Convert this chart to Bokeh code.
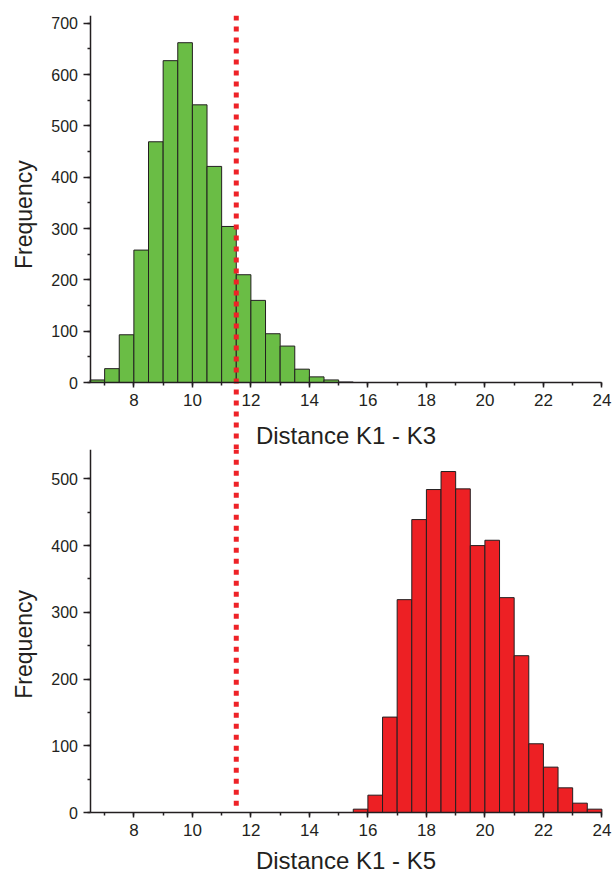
from bokeh.plotting import figure
from bokeh.layouts import column
from bokeh.models import SingleIntervalTicker, Range1d, Label
from bokeh.embed import file_html
from bokeh.resources import INLINE

# ---------------- data ----------------
bin_width = 0.5
k3_bin_left = [6.5, 7.0, 7.5, 8.0, 8.5, 9.0, 9.5, 10.0, 10.5, 11.0, 11.5,
               12.0, 12.5, 13.0, 13.5, 14.0, 14.5, 15.0]
k3_counts = [5, 27, 93, 258, 469, 627, 662, 541, 421, 304, 210,
             160, 95, 71, 26, 11, 5, 1]

k5_bin_left = [15.5, 16.0, 16.5, 17.0, 17.5, 18.0, 18.5, 19.0, 19.5, 20.0,
               20.5, 21.0, 21.5, 22.0, 22.5, 23.0, 23.5]
k5_counts = [5, 26, 143, 319, 439, 484, 511, 485, 400, 408,
             322, 235, 103, 68, 37, 14, 5]

threshold = 11.5
x_min, x_max = 6.5, 24.0
x_label_top = "Distance K1 - K3"
x_label_bottom = "Distance K1 - K5"
y_label = "Frequency"
y_max_top = 715
y_max_bottom = 544

# ---------------- style / layout ----------------
FONT = "Liberation Sans"
TXT = "#231F20"
GREEN = "#6ABD45"
RED = "#ED2024"
DOT = "#EE2227"
X_VIEW = (3.44, 24.43)   # visible x span incl. room for the y-axis texts


def style_axes(p, ymax):
    for ax in (p.xaxis[0], p.yaxis[0]):
        ax.axis_line_color = TXT
        ax.axis_line_width = 1.5
        ax.major_tick_line_color = TXT
        ax.major_tick_line_width = 1.5
        ax.minor_tick_line_color = TXT
        ax.minor_tick_line_width = 1.5
        ax.major_tick_in = 0
        ax.minor_tick_in = 0
        ax.major_label_text_font = FONT
        ax.major_label_text_color = TXT
    xa = p.xaxis[0]
    xa.fixed_location = 0
    xa.bounds = (x_min, x_max)
    xa.ticker = SingleIntervalTicker(interval=2, num_minor_ticks=2)
    xa.major_tick_out = 5
    xa.minor_tick_out = 3
    xa.major_label_standoff = 6
    xa.major_label_text_font_size = "17px"
    ya = p.yaxis[0]
    ya.fixed_location = x_min
    ya.bounds = (0, ymax)
    ya.ticker = SingleIntervalTicker(interval=100, num_minor_ticks=2)
    ya.major_tick_out = 7
    ya.minor_tick_out = 3
    ya.major_label_standoff = 5
    ya.major_label_text_font_size = "16px"
    p.xgrid.visible = False
    p.ygrid.visible = False
    p.outline_line_color = None


def make_fig(y_start, ymax, frame_h, border_top, xlabel, xlab_y, ylab_y,
             counts, lefts, color, line_from_top):
    p = figure(frame_width=614, frame_height=frame_h,
               x_range=Range1d(*X_VIEW), y_range=Range1d(y_start, ymax),
               output_backend="svg", toolbar_location=None,
               min_border_left=0, min_border_right=0,
               min_border_top=border_top, min_border_bottom=0,
               background_fill_color="white", border_fill_color="white")
    rights = [l + bin_width for l in lefts]
    p.quad(left=lefts, right=rights, bottom=0, top=counts,
           fill_color=color, line_color=TXT, line_width=1)
    style_axes(p, ymax)
    # axis titles
    p.add_layout(Label(x=(x_min + x_max) / 2, y=xlab_y, text=xlabel,
                       text_align="center", text_baseline="middle",
                       text_font=FONT, text_font_size="24px",
                       text_color=TXT))
    p.add_layout(Label(x=4.244, y=ylab_y, text=y_label, angle=90,
                       angle_units="deg", text_align="center",
                       text_baseline="middle", text_font=FONT,
                       text_font_size="23px", text_color=TXT))
    # dotted threshold line (continues across both panels)
    if line_from_top:
        p.segment(x0=threshold, y0=ymax, x1=threshold, y1=y_start,
                  line_color=DOT, line_width=5, line_dash="5 6",
                  line_cap="butt")
    else:
        p.segment(x0=threshold, y0=10, x1=threshold, y1=ymax,
                  line_color=DOT, line_width=5, line_dash="5 6",
                  line_cap="butt")
    return p


top = make_fig(-130.5, y_max_top, 434, 15, x_label_top, -102.3, 327,
               k3_counts, k3_bin_left, GREEN, True)
bottom = make_fig(-94.4, y_max_bottom, 426, 0, x_label_bottom, -71.9, 252,
                  k5_counts, k5_bin_left, RED, False)

layout = column(top, bottom, spacing=0)
open("out.html", "w").write(file_html(layout, INLINE))
